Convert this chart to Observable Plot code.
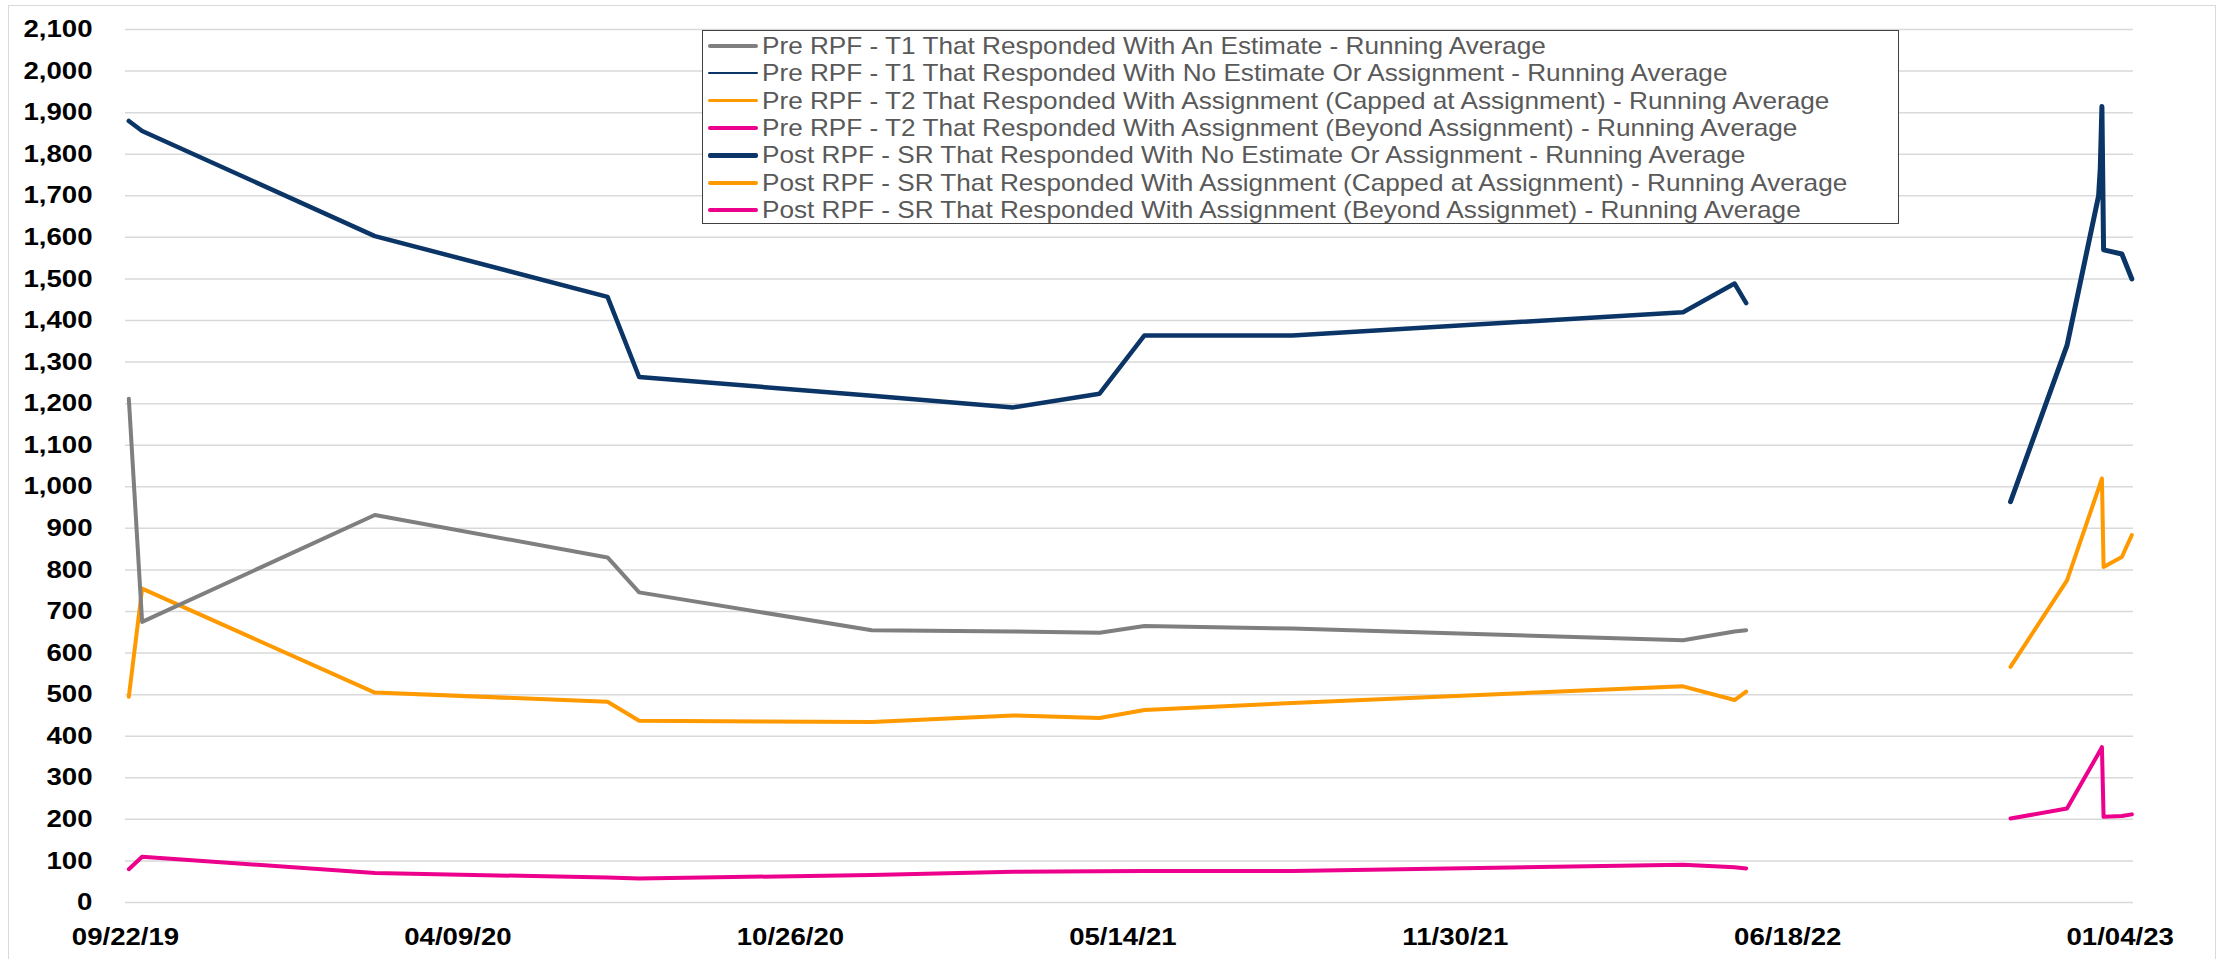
<!DOCTYPE html>
<html>
<head>
<meta charset="utf-8">
<script src="https://cdn.jsdelivr.net/npm/d3@7"></script>
<script src="https://cdn.jsdelivr.net/npm/@observablehq/plot@0.6"></script>
<style>
  html, body { margin: 0; padding: 0; background: #fff; }
  #wrap { position: relative; width: 2221px; height: 959px; overflow: hidden; background: #fff; }
  #wrap svg { display: block; position: absolute; left: 0; top: 0; }
  #border { position: absolute; left: 8px; top: 5px; width: 2208px; height: 980px; border: 1.5px solid #d9d9d9; box-sizing: border-box; pointer-events: none; }
  #legend { position: absolute; left: 702px; top: 30px; width: 1197px; height: 194px; border: 1.5px solid #404040; background: #fff; box-sizing: border-box; font-family: "Liberation Sans", Arial, sans-serif; font-size: 24px; color: #595959; }
  .row { position: absolute; left: 5px; height: 27.5px; display: flex; align-items: center; white-space: nowrap; }
  .sw { width: 50px; margin-right: 4px; border-radius: 2px; }
  .lab { display: inline-block; transform: scaleX(1.09); transform-origin: left center; }
</style>
</head>
<body>
<div id="wrap"></div>
<script>
// ---- data ----
const seriesNames = [
  "Pre RPF - T1 That Responded With An Estimate - Running Average",
  "Pre RPF - T1 That Responded With No Estimate Or Assignment - Running Average",
  "Pre RPF - T2 That Responded With Assignment (Capped at Assignment) - Running Average",
  "Pre RPF - T2 That Responded With Assignment (Beyond Assignment) - Running Average",
  "Post RPF - SR That Responded With No Estimate Or Assignment - Running Average",
  "Post RPF - SR That Responded With Assignment (Capped at Assignment) - Running Average",
  "Post RPF - SR That Responded With Assignment (Beyond Assignmet) - Running Average"
];
const seriesColors = ["#7f7f7f", "#0a3566", "#ff9900", "#ec008c", "#0a3566", "#ff9900", "#ec008c"];
const seriesWidths = [4, 4.5, 4, 4, 5, 4, 4];
const legendWidths = [4, 2, 3.5, 3.5, 5, 3.5, 3.5];

const preDates = ["2019-09-24","2019-10-02","2020-02-19","2020-07-08","2020-07-27","2020-12-14","2021-03-09","2021-04-30","2021-05-27","2021-08-24","2022-04-16","2022-05-17","2022-05-24"];
const preT1Estimate   = [1212, 675, 932, 830, 746, 655, 652, 649, 665, 659, 631, 652, 655];
const preT1NoEstimate = [1880, 1856, 1603, 1457, 1264, 1219, 1191, 1224, 1364, 1364, 1420, 1489, 1442];
const preT2Capped     = [495, 755, 505, 483, 437, 434, 450, 444, 463, 480, 520, 487, 507];
const preT2Beyond     = [80, 110, 71, 60, 58, 66, 74, 75, 76, 76, 91, 85, 82];

const postDates = ["2022-10-30","2022-12-03","2022-12-22","2022-12-23","2022-12-24","2022-12-25","2023-01-05","2023-01-11"];
const postSRNoEstimate = [964, 1340, 1700, 1765, 1915, 1570, 1560, 1500];
const postSRCapped     = [567, 775, 996, 1008, 1020, 807, 831, 884];
const postSRBeyond     = [202, 226, 359, 366, 374, 206, 208, 212];

const xTickLabels = ["09/22/19","04/09/20","10/26/20","05/14/21","11/30/21","06/18/22","01/04/23"];
const yTickValues = [0,100,200,300,400,500,600,700,800,900,1000,1100,1200,1300,1400,1500,1600,1700,1800,1900,2000,2100];
const xDomain = ["2019-09-22", "2023-01-12"];

// ---- build table ----
const parseISO = d3.utcParse("%Y-%m-%d");
const parseTick = d3.utcParse("%m/%d/%y");
const seriesData = [
  [preDates, preT1Estimate],
  [preDates, preT1NoEstimate],
  [preDates, preT2Capped],
  [preDates, preT2Beyond],
  [postDates, postSRNoEstimate],
  [postDates, postSRCapped],
  [postDates, postSRBeyond]
];
const rows = [];
seriesData.forEach(([dates, vals], s) => {
  dates.forEach((d, i) => rows.push({series: s, date: parseISO(d), value: vals[i]}));
});

const drawOrder = [3, 2, 0, 1, 6, 5, 4];
const lineMarks = drawOrder.map(s => Plot.line(rows.filter(r => r.series === s), {
  x: "date", y: "value",
  stroke: seriesColors[s], strokeWidth: seriesWidths[s],
  strokeLinejoin: "round", strokeLinecap: "round"
}));

const chart = Plot.plot({
  width: 2221,
  height: 959,
  marginLeft: 125,
  marginRight: 88,
  marginTop: 29,
  marginBottom: 57,
  style: {fontFamily: "'Liberation Sans', Arial, sans-serif", background: "#fff", color: "#000", overflow: "visible"},
  x: {type: "utc", domain: xDomain.map(parseISO), label: null},
  y: {domain: [0, 2100], label: null},
  marks: [
    Plot.gridY(yTickValues, {stroke: "#d9d9d9", strokeOpacity: 1, strokeWidth: 1.5}),
    Plot.axisY(yTickValues, {tickSize: 0, tickPadding: 33, tickFormat: d3.format(","), fontSize: 24, fontWeight: "bold", fill: "#000", label: null}),
    Plot.axisX(xTickLabels.map(parseTick), {tickSize: 0, tickPadding: 25, tickFormat: d3.utcFormat("%m/%d/%y"), fontSize: 24, fontWeight: "bold", fill: "#000", label: null}),
    ...lineMarks
  ]
});

const wrap = document.getElementById("wrap");
wrap.appendChild(chart);

// widen tick labels horizontally like the reference (keeps anchor position)
chart.querySelectorAll('g[aria-label$="tick label"] text').forEach(t => {
  const w = t.getComputedTextLength();
  if (w > 0) {
    t.setAttribute("textLength", (w * 1.15).toFixed(1));
    t.setAttribute("lengthAdjust", "spacingAndGlyphs");
  }
});

const border = document.createElement("div");
border.id = "border";
wrap.appendChild(border);

// legend
const legend = document.createElement("div");
legend.id = "legend";
seriesNames.forEach((name, i) => {
  const row = document.createElement("div");
  row.className = "row";
  row.style.top = (1 + i * 27.4) + "px";
  const sw = document.createElement("div");
  sw.className = "sw";
  sw.style.height = legendWidths[i] + "px";
  sw.style.background = seriesColors[i];
  const lab = document.createElement("span");
  lab.className = "lab";
  lab.textContent = name;
  row.appendChild(sw);
  row.appendChild(lab);
  legend.appendChild(row);
});
wrap.appendChild(legend);
</script>
</body>
</html>
